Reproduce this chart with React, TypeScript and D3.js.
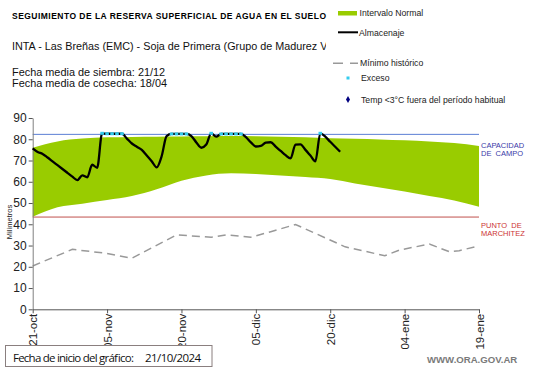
import React, { useEffect, useRef } from 'react';
import * as d3 from 'd3';

// start of the chart (21/10/2024), one value per day
const startDate = new Date(2024, 9, 21);

// Almacenaje (mm), daily from 21-oct
const almacenaje = [
  75.7, 74.0, 73.1, 71.4, 69.6, 67.8, 66.0, 64.2, 62.4, 60.8,
  63.0, 62.1, 68.0, 66.6, 82.8, 82.6, 82.6, 82.6, 82.6, 80.3,
  78.0, 76.5, 75.0, 72.4, 69.7, 66.8, 72.0, 81.5, 82.5, 82.5,
  82.5, 82.5, 81.5, 78.5, 76.0, 77.5, 82.8, 81.2, 82.5, 82.5,
  82.5, 82.5, 82.5, 81.0, 78.5, 76.6, 76.9, 78.4, 78.6, 76.5,
  74.5, 72.5, 71.0, 77.5, 77.6, 75.0, 72.3, 69.6, 82.8, 81.2,
  78.8, 76.5, 74.1,
];

// days (from start) with Exceso
const excesoDays = [14, 15, 16, 17, 18, 28, 29, 30, 31, 36, 38, 39, 40, 41, 42, 58];

// Intervalo Normal
const bandDays = [0, 5, 10, 15, 20, 25, 30, 35, 40, 45, 50, 55, 60, 65, 70, 75, 80, 85, 90];
const bandUpper = [76.0, 79.0, 80.3, 80.9, 81.1, 81.2, 81.3, 81.4, 81.5, 81.4, 81.2, 80.9, 80.5, 80.2, 79.9, 79.5, 79.0, 78.2, 76.8];
const bandLower = [43.5, 48.0, 49.7, 51.4, 53.3, 56.5, 60.5, 63.0, 64.0, 63.6, 62.9, 62.2, 61.3, 59.2, 57.3, 55.4, 53.3, 51.2, 48.3];

// Mínimo histórico
const minDays = [0, 8, 15, 20, 29, 36, 39, 44, 48, 53, 57, 63, 71, 74, 80, 84, 86, 90];
const minHistorico = [20.4, 28.2, 26.3, 24.0, 35.0, 33.9, 35.0, 33.9, 36.5, 39.9, 35.7, 29.4, 25.2, 27.9, 30.7, 27.1, 27.6, 29.8];

const capacidadCampo = 82.3;
const puntoMarchitez = 43.4;

const yTicks = [0, 10, 20, 30, 40, 50, 60, 70, 80, 90];
const xTickDays = [0, 15, 30, 45, 60, 75, 90];
const meses = ['ene', 'feb', 'mar', 'abr', 'may', 'jun', 'jul', 'ago', 'sep', 'oct', 'nov', 'dic'];

const FONT = '"Liberation Sans", Arial, sans-serif';

const App = () => {
  const svgRef = useRef<SVGSVGElement>(null);

  useEffect(() => {
    const svg = d3.select(svgRef.current);
    svg.selectAll('*').remove();
    svg.attr('font-family', FONT);

    // set the ranges
    const x = d3.scaleTime()
      .domain([startDate, d3.timeDay.offset(startDate, 90)])
      .range([32.7, 479]);
    const y = d3.scaleLinear().domain([0, 90]).range([309.3, 118]);
    const dayX = (d: number) => x(d3.timeDay.offset(startDate, d));

    // Intervalo normal band
    const band = d3.area<number>()
      .x((_, i) => dayX(bandDays[i]))
      .y0((_, i) => y(bandLower[i]))
      .y1(d => y(d))
      .curve(d3.curveMonotoneX);
    svg.append('path')
      .datum(bandUpper)
      .attr('fill', '#99cc00')
      .attr('d', band);

    // capacidad de campo / punto de marchitez
    svg.append('line')
      .attr('x1', x.range()[0]).attr('x2', x.range()[1])
      .attr('y1', y(capacidadCampo)).attr('y2', y(capacidadCampo))
      .attr('stroke', '#5b7fd4').attr('stroke-width', 1);
    svg.append('line')
      .attr('x1', x.range()[0]).attr('x2', x.range()[1])
      .attr('y1', y(puntoMarchitez)).attr('y2', y(puntoMarchitez))
      .attr('stroke', '#c0504d').attr('stroke-width', 1);

    // minimo historico
    const minLine = d3.line<number>()
      .x((_, i) => dayX(minDays[i]))
      .y(d => y(d));
    svg.append('path')
      .datum(minHistorico)
      .attr('fill', 'none')
      .attr('stroke', '#999')
      .attr('stroke-width', 1.5)
      .attr('stroke-dasharray', '8,5')
      .attr('d', minLine);

    // Add the Y Axis
    const yAxis = svg.append('g')
      .attr('transform', `translate(${x.range()[0]},0)`)
      .call(d3.axisLeft(y).tickValues(yTicks).tickSize(4).tickSizeOuter(0).tickPadding(2));
    yAxis.select('.domain').attr('stroke', '#808080');
    yAxis.selectAll('.tick line').attr('stroke', '#555');
    yAxis.selectAll('.tick text')
      .attr('font-size', 12).attr('font-family', FONT).attr('fill', '#222');

    // Add the X Axis
    const xAxis = svg.append('g')
      .attr('transform', `translate(0,${y(0)})`)
      .call(d3.axisBottom(x)
        .tickValues(xTickDays.map(d => d3.timeDay.offset(startDate, d)))
        .tickFormat((d: any) => `${d3.timeFormat('%d')(d)}-${meses[d.getMonth()]}`)
        .tickSize(4)
        .tickSizeOuter(0));
    xAxis.select('.domain').attr('stroke', '#555');
    xAxis.selectAll('.tick line').attr('stroke', '#555');
    xAxis.selectAll('.tick text')
      .attr('font-size', 11.5).attr('font-family', FONT).attr('fill', '#222')
      .attr('text-anchor', 'end')
      .attr('transform', 'rotate(-90)')
      .attr('x', -4.5)
      .attr('y', 0)
      .attr('dy', '0.35em');

    // MAIN LINE almacenaje
    const valueline = d3.line<number>()
      .x((_, i) => dayX(i))
      .y(d => y(d))
      .curve(d3.curveMonotoneX);
    svg.append('path')
      .datum(almacenaje)
      .attr('fill', 'none')
      .attr('stroke', '#000')
      .attr('stroke-width', 2.3)
      .attr('stroke-linejoin', 'round')
      .attr('d', valueline);

    // exceso markers
    svg.append('g')
      .selectAll('rect')
      .data(excesoDays)
      .join('rect')
      .attr('x', d => dayX(d) - 1.8)
      .attr('y', d => y(almacenaje[d]) - 1.5)
      .attr('width', 3.6)
      .attr('height', 3)
      .attr('fill', '#33ccee');

    // side labels
    const side = svg.append('g').attr('font-size', 7.5);
    side.append('text').attr('x', 481).attr('y', 147.5).attr('fill', '#3a3aa8').text('CAPACIDAD');
    side.append('text').attr('x', 481).attr('y', 156).attr('fill', '#3a3aa8').attr('xml:space', 'preserve').text('DE  CAMPO');
    side.append('text').attr('x', 481).attr('y', 227.5).attr('fill', '#cc3333').attr('xml:space', 'preserve').text('PUNTO  DE');
    side.append('text').attr('x', 481).attr('y', 236).attr('fill', '#cc3333').text('MARCHITEZ');

    // y label
    svg.append('text')
      .attr('transform', 'translate(11.5,222) rotate(-90)')
      .attr('text-anchor', 'middle')
      .attr('font-size', 7.5)
      .attr('fill', '#222')
      .text('Milímetros');

    // titles
    svg.append('text')
      .attr('x', 12).attr('y', 18.5)
      .attr('font-size', 8.5).attr('font-weight', 'bold')
      .attr('textLength', 314)
      .text('SEGUIMIENTO DE LA RESERVA SUPERFICIAL DE AGUA EN EL SUELO');

    svg.append('clipPath').attr('id', 'subclip')
      .append('rect').attr('x', 0).attr('y', 30).attr('width', 326).attr('height', 30);
    svg.append('text')
      .attr('clip-path', 'url(#subclip)')
      .attr('x', 12).attr('y', 50)
      .attr('font-size', 10.8).attr('fill', '#111')
      .text('INTA - Las Breñas (EMC) - Soja de Primera (Grupo de Madurez V');

    svg.append('text').attr('x', 12).attr('y', 75.5).attr('font-size', 10.9).attr('fill', '#111')
      .text('Fecha media de siembra: 21/12');
    svg.append('text').attr('x', 12).attr('y', 87).attr('font-size', 10.9).attr('fill', '#111')
      .text('Fecha media de cosecha: 18/04');

    // legend
    const legend = svg.append('g').attr('font-size', 8.7).attr('fill', '#222');
    legend.append('rect').attr('x', 338).attr('y', 11).attr('width', 19).attr('height', 4.5).attr('fill', '#99cc00');
    legend.append('text').attr('x', 359.5).attr('y', 15.5).text('Intervalo Normal');
    legend.append('line').attr('x1', 338).attr('x2', 358).attr('y1', 32.3).attr('y2', 32.3)
      .attr('stroke', '#000').attr('stroke-width', 2);
    legend.append('text').attr('x', 359).attr('y', 35.5).text('Almacenaje');
    legend.append('line').attr('x1', 333).attr('x2', 358).attr('y1', 63.3).attr('y2', 63.3)
      .attr('stroke', '#999').attr('stroke-width', 1.5).attr('stroke-dasharray', '10,7');
    legend.append('text').attr('x', 360).attr('y', 66).text('Mínimo histórico');
    legend.append('rect').attr('x', 346.5).attr('y', 76.5).attr('width', 3).attr('height', 3).attr('fill', '#33ccee');
    legend.append('text').attr('x', 361).attr('y', 80.5).text('Exceso');
    legend.append('path')
      .attr('d', d3.symbol(d3.symbolDiamond, 14)())
      .attr('transform', 'translate(348,99.5)')
      .attr('fill', '#000080');
    legend.append('text').attr('x', 361).attr('y', 102.5).text('Temp <3°C fuera del período habitual');

    // footer box
    svg.append('rect')
      .attr('x', 5.5).attr('y', 345.5).attr('width', 206.5).attr('height', 21)
      .attr('fill', '#fff').attr('stroke', '#8a7f7f');
    svg.append('text').attr('x', 13).attr('y', 361.5).attr('font-size', 11.5)
      .attr('font-family', '"Open Sans", sans-serif').attr('fill', '#111')
      .attr('textLength', 121)
      .text('Fecha de inicio del gráfico:');
    svg.append('text').attr('x', 145).attr('y', 361.5).attr('font-size', 11.5)
      .attr('font-family', '"Open Sans", sans-serif').attr('fill', '#111')
      .attr('textLength', 56)
      .text('21/10/2024');

    svg.append('text')
      .attr('x', 427).attr('y', 363.3)
      .attr('font-size', 9.6).attr('font-weight', 'bold').attr('fill', '#7a7a7a')
      .text('WWW.ORA.GOV.AR');
  }, []);

  return (
    <svg
      ref={svgRef}
      width={541}
      height={368}
      style={{ position: 'absolute', left: 0, top: 0, background: '#fff' }}
    />
  );
};

export default App;
